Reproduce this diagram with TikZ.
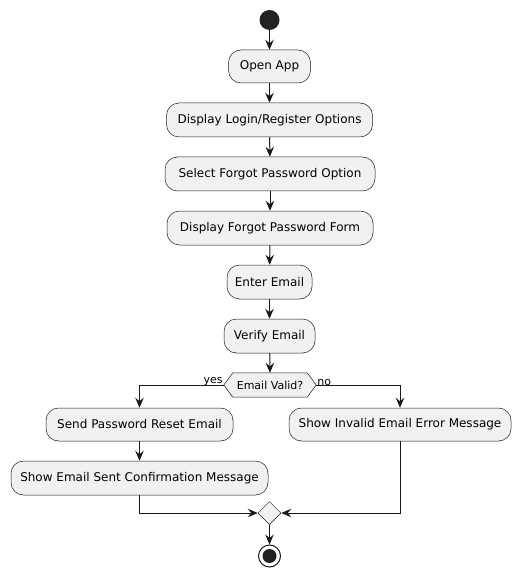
\documentclass[tikz,border=0pt]{standalone}
\usepackage{fontspec}
\setmainfont{DejaVu Sans}
\usetikzlibrary{arrows.meta,shapes.geometric}
\definecolor{boxfill}{HTML}{F1F1F1}
\definecolor{ink}{HTML}{181818}
\definecolor{dot}{HTML}{222222}
\tikzset{
  act/.style={draw=ink, line width=0.5pt, fill=boxfill, rounded corners=12.5pt, font=\fontsize{12}{14}\selectfont, inner sep=0pt, align=center},
  flow/.style={draw=ink, line width=1pt, -{Stealth[length=10pt,width=8.5pt,inset=3.5pt]}},
  lbl/.style={font=\fontsize{11}{13}\selectfont, inner sep=0pt},
}
\begin{document}
\begin{tikzpicture}[x=1pt,y=-1pt]
\useasboundingbox (0,0) rectangle (521,577);
\node[circle, fill=dot, minimum size=20pt, inner sep=0pt] (start) at (269.5,20) {};
\node[act, minimum width=82pt, minimum height=33pt] (open) at (269.5,66.5) {Open App};
\node[act, minimum width=206pt, minimum height=34pt] (login) at (269.5,120) {Display Login/Register Options};
\node[act, minimum width=210pt, minimum height=34pt] (select) at (270,174) {Select Forgot Password Option};
\node[act, minimum width=206pt, minimum height=34pt] (form) at (270,228) {Display Forgot Password Form};
\node[act, minimum width=85pt, minimum height=34pt] (enter) at (269.5,282) {Enter Email};
\node[act, minimum width=91pt, minimum height=34pt] (verify) at (269.5,336) {Verify Email};
% hexagon decision
\node[inner sep=0pt, minimum width=92pt, minimum height=24pt, font=\fontsize{11}{13}\selectfont] (valid) at (270,385) {Email Valid?};
\draw[draw=ink, line width=0.5pt, fill=boxfill] (valid.west) -- ([xshift=9pt]valid.north west) -- ([xshift=-9pt]valid.north east) -- (valid.east) -- ([xshift=-9pt]valid.south east) -- ([xshift=9pt]valid.south west) -- cycle;
\node[inner sep=0pt, font=\fontsize{11}{13}\selectfont] at (valid) {Email Valid?};
\node[act, minimum width=187pt, minimum height=33pt] (send) at (139.5,424.5) {Send Password Reset Email};
\node[act, minimum width=257pt, minimum height=34pt] (confirm) at (139.5,478) {Show Email Sent Confirmation Message};
\node[act, minimum width=222pt, minimum height=33pt] (invalid) at (400,424.5) {Show Invalid Email Error Message};
\node[diamond, draw=ink, line width=0.5pt, fill=boxfill, minimum width=23pt, minimum height=23pt, inner sep=0pt] (merge) at (269.5,513) {};
\node[circle, draw=ink, line width=1pt, fill=white, minimum size=22pt, inner sep=0pt] (stop) at (269.5,556) {};
\node[circle, fill=dot, minimum size=14pt, inner sep=0pt] at (stop) {};
% connectors
\draw[flow] (start) -- (open);
\draw[flow] (open) -- (login);
\draw[flow] (login) -- (select);
\draw[flow] (select) -- (form);
\draw[flow] (form) -- (enter);
\draw[flow] (enter) -- (verify);
\draw[flow] (verify) -- (valid.north);
\draw[flow] (valid.west) -| (send.north);
\draw[flow] (valid.east) -| (invalid.north);
\draw[flow] (send) -- (confirm);
\draw[flow] (confirm.south) |- (merge.west);
\draw[flow] (invalid.south) |- (merge.east);
\draw[flow] (merge) -- (stop);
\node[lbl, anchor=south east] at ([xshift=-1pt,yshift=-1pt]valid.west) {yes};
\node[lbl, anchor=south west] at ([xshift=1pt,yshift=-1pt]valid.east) {no};
\end{tikzpicture}
\end{document}
